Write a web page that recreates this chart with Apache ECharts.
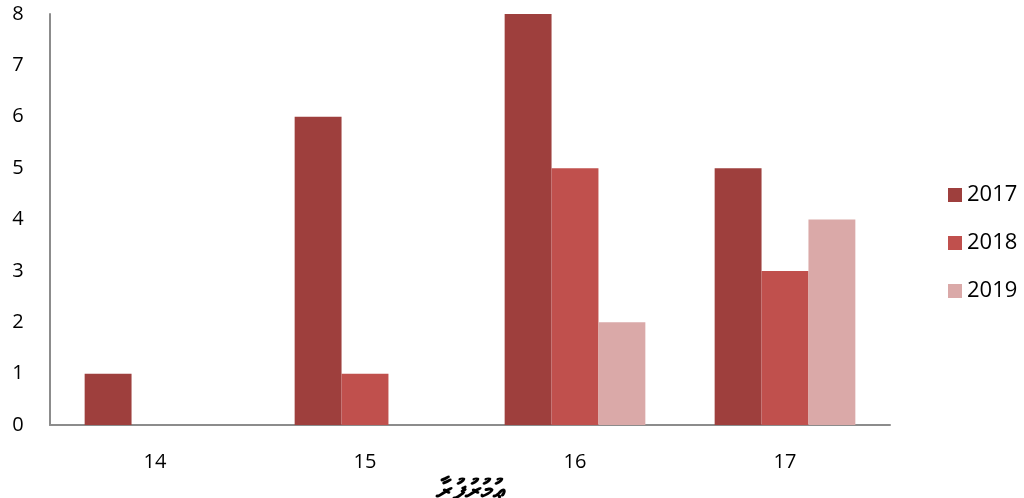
<!DOCTYPE html>
<html><head><meta charset="utf-8">
<script src="https://cdn.jsdelivr.net/npm/echarts@6/dist/echarts.min.js"></script>
<style>html,body{margin:0;padding:0;background:#fff}#c{width:1024px;height:498px}</style>
</head><body><div id="c"></div>
<script>
const categories = ['14', '15', '16', '17'];
const seriesNames = ['2017', '2018', '2019'];
const values2017 = [1, 6, 8, 5];
const values2018 = [0, 1, 5, 3];
const values2019 = [0, 0, 2, 4];
const yTicks = [0, 1, 2, 3, 4, 5, 6, 7, 8];
const xTitle = 'ޢުމުރުފުރާ';
const colors = ['#9E3F3D', '#C0504D', '#DAA9A8'];
const font = 'Open Sans, Liberation Sans, sans-serif';
const chart = echarts.init(document.getElementById('c'));
const allVals = [values2017, values2018, values2019];
chart.setOption({
  animation: false,
  color: colors,
  grid: {left: 50, right: 134, top: 14, bottom: 73, containLabel: false, outerBoundsMode: 'none'},
  legend: {
    orient: 'vertical', left: 943, top: 179, itemGap: 26,
    itemWidth: 14, itemHeight: 14, icon: 'rect',
    textStyle: {fontSize: 22, color: '#000', fontFamily: font},
    data: seriesNames
  },
  xAxis: {
    type: 'category', data: categories,
    axisLine: {lineStyle: {color: '#8c8c8c', width: 2}},
    axisTick: {show: false},
    axisLabel: {fontSize: 20, color: '#000', fontFamily: font, margin: 27},
    name: xTitle, nameLocation: 'middle', nameGap: 45,
    nameTextStyle: {fontSize: 28, color: '#000', fontWeight: 'bold'}
  },
  yAxis: {
    type: 'value', min: 0, max: 8, interval: 1,
    axisLine: {show: true, lineStyle: {color: '#8c8c8c', width: 2}},
    axisTick: {show: false},
    splitLine: {show: false},
    axisLabel: {fontSize: 20, color: '#000', fontFamily: font, margin: 32, align: 'center',
      formatter: v => yTicks.includes(v) ? String(v) : ''}
  },
  series: seriesNames.map((n, i) => ({
    name: n, type: 'bar', data: allVals[i],
    barGap: '0%', barCategoryGap: '33%',
    itemStyle: {color: colors[i]}
  }))
});
</script></body></html>
